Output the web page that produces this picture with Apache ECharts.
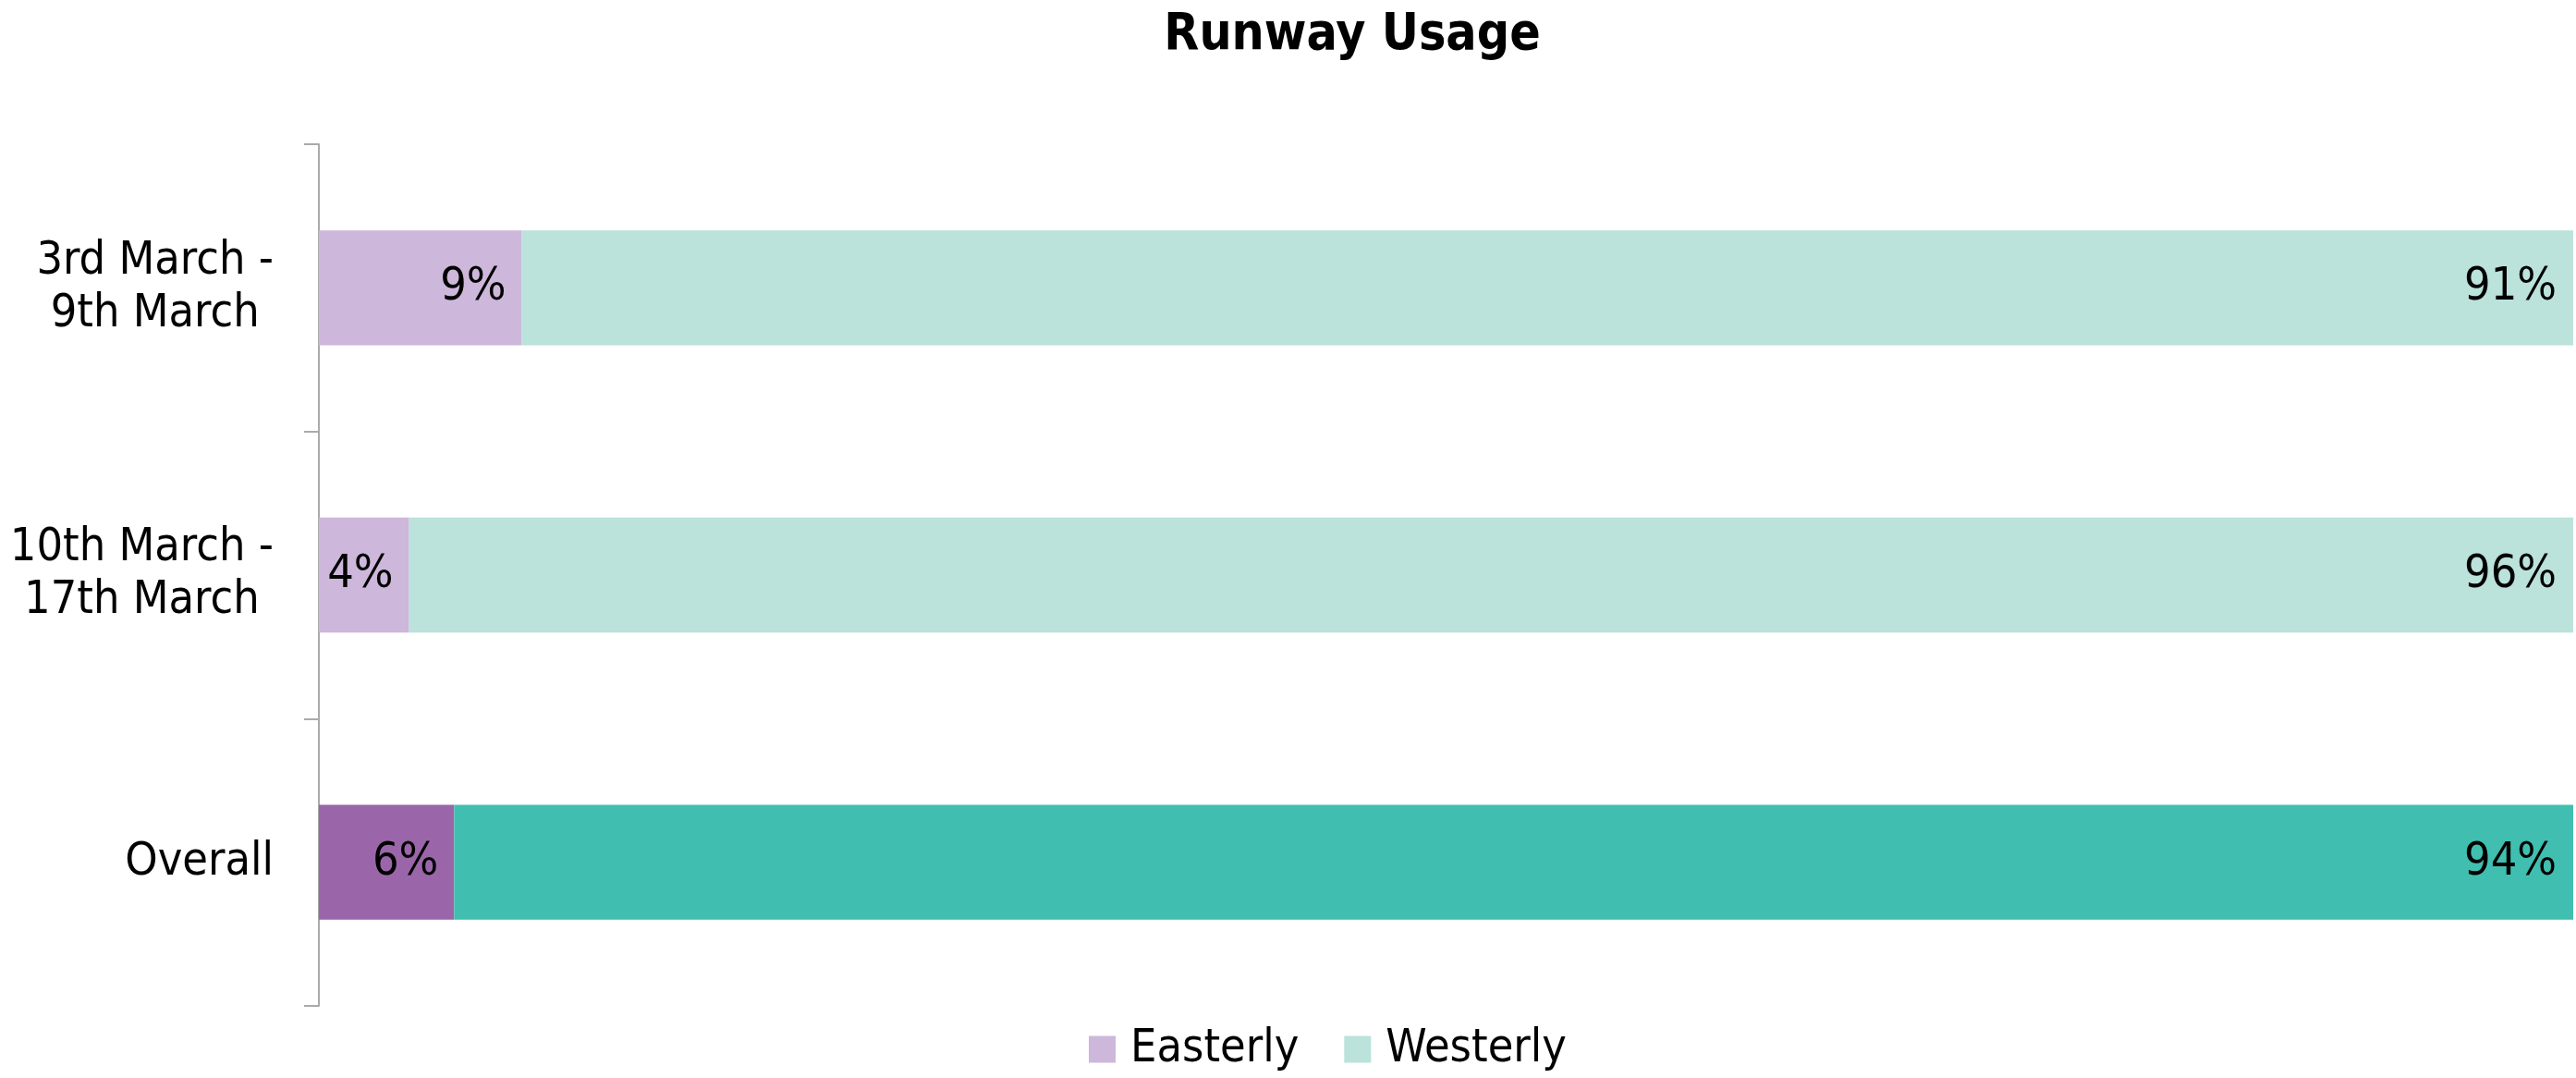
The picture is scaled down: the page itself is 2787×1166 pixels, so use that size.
<!DOCTYPE html>
<html>
<head>
<meta charset="utf-8">
<script src="https://cdn.jsdelivr.net/npm/echarts@6/dist/echarts.min.js"></script>
<style>html,body{margin:0;padding:0;background:#fff}#c{width:2787px;height:1166px}</style>
</head>
<body>
<div id="c"></div>
<script>
const categories = ["3rd March -\n9th March", "10th March -\n17th March", "Overall"];
const easterly = [9, 4, 6];
const westerly = [91, 96, 94];
const seriesNames = ["Easterly", "Westerly"];
const easterlyColors = ["#cdb7da", "#cdb7da", "#9a66a9"];
const westerlyColors = ["#bbe2db", "#bbe2db", "#40bfb1"];

const FONT = "DejaVu Sans Condensed, DejaVu Sans, sans-serif";
const chart = echarts.init(document.getElementById('c'));

function build(vals, colors) {
  return vals.map((v, i) => ({ value: v, itemStyle: { color: colors[i] } }));
}

chart.setOption({
  animation: false,
  textStyle: { fontFamily: FONT },
  title: {
    text: "Runway Usage",
    left: 1458, textAlign: 'center', top: 6,
    textStyle: { fontFamily: FONT, fontWeight: 'bold', fontSize: 55, color: '#000' }
  },
  legend: {
    bottom: 1, left: 1173,
    itemWidth: 29, itemHeight: 29, itemGap: 49,
    icon: 'rect',
    textStyle: { fontFamily: FONT, fontSize: 50, color: '#000', padding: [0, 0, 0, 11] },
    data: [
      { name: seriesNames[0], itemStyle: { color: easterlyColors[0] } },
      { name: seriesNames[1], itemStyle: { color: westerlyColors[0] } }
    ]
  },
  grid: { left: 345, right: 3, top: 156, bottom: 78, containLabel: false },
  xAxis: { type: 'value', min: 0, max: 100, show: false },
  yAxis: {
    type: 'category', data: categories, inverse: true,
    axisLine: { show: true, lineStyle: { color: '#aaaaaa', width: 2 } },
    axisTick: { show: true, length: 16, lineStyle: { color: '#aaaaaa', width: 2 } },
    axisLabel: {
      fontFamily: FONT, fontSize: 50, color: '#000', lineHeight: 57, margin: 49, align: 'right',
      formatter: v => v.split('\n').map(l => '{c|' + l + '}').join('\n'),
      rich: { c: { align: 'center', fontFamily: FONT, fontSize: 50, lineHeight: 57, color: '#000' } }
    }
  },
  series: [
    {
      name: seriesNames[0], type: 'bar', stack: 'a', barCategoryGap: '60%',
      data: build(easterly, easterlyColors),
      label: { show: true, position: 'insideRight', distance: 17, formatter: '{c}%', fontFamily: FONT, fontSize: 50, color: '#000' }
    },
    {
      name: seriesNames[1], type: 'bar', stack: 'a', barCategoryGap: '60%',
      data: build(westerly, westerlyColors),
      label: { show: true, position: 'insideRight', distance: 18, formatter: '{c}%', fontFamily: FONT, fontSize: 50, color: '#000' }
    }
  ]
});
</script>
</body>
</html>
